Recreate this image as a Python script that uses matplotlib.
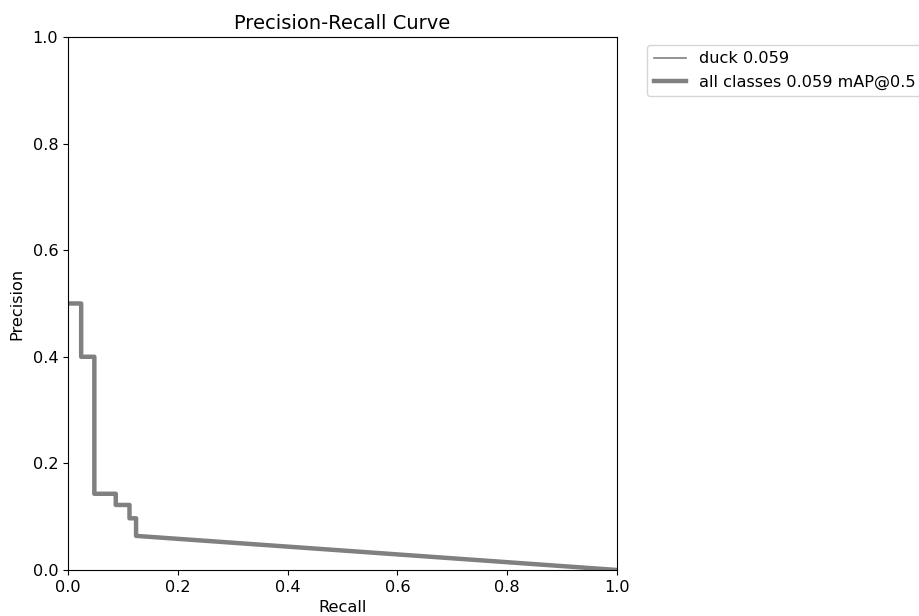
import matplotlib
matplotlib.use("Agg")
import matplotlib.pyplot as plt

recall = [0.0, 0.024, 0.024, 0.048, 0.048, 0.087, 0.087, 0.112, 0.112, 0.124, 0.124, 1.0]
precision = [0.50, 0.50, 0.40, 0.40, 0.143, 0.143, 0.122, 0.122, 0.097, 0.097, 0.064, 0.0]
class_name = "duck"
class_ap = 0.059
map50 = 0.059

plt.rcParams["font.size"] = 11.6
plt.rcParams["axes.titlesize"] = 14
fig = plt.figure(figsize=(9.2, 6.16), dpi=100)
ax = fig.add_axes([0.0739, 0.0747, 0.5968, 0.8653])
ax.plot(recall, precision, linewidth=1.2, color="grey", label=f"{class_name} {class_ap:.3f}")
ax.plot(recall, precision, linewidth=3.2, color="grey", label=f"all classes {map50:.3f} mAP@0.5")
ax.set_xlim(0, 1)
ax.set_ylim(0, 1)
ax.set_xlabel("Recall", labelpad=4)
ax.set_ylabel("Precision", labelpad=6)
ax.set_title("Precision-Recall Curve", pad=6)
ax.legend(bbox_to_anchor=(1.04, 1), loc="upper left")
fig.savefig("out.png", dpi=100)
